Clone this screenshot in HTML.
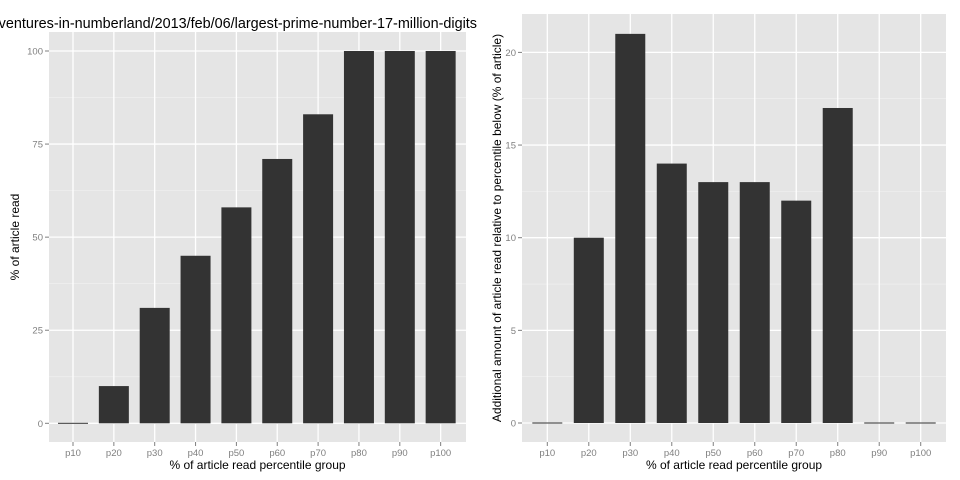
<!DOCTYPE html>
<html><head><meta charset="utf-8"><style>
body{margin:0;background:#fff;}
svg{display:block;font-family:"Liberation Sans",sans-serif;}
</style></head><body>
<svg id="c" width="960" height="480"></svg>
<script>
const categories=["p10","p20","p30","p40","p50","p60","p70","p80","p90","p100"];
const leftValues=[0,10,31,45,58,71,83,100,100,100];
const rightValues=[0,10,21,14,13,13,12,17,0,0];
const leftTicks=[0,25,50,75,100];
const rightTicks=[0,5,10,15,20];
const NS="http://www.w3.org/2000/svg";
const svg=document.getElementById('c');
function mk(t,a,p){const e=document.createElementNS(NS,t);for(const k in a)e.setAttribute(k,a[k]);(p||svg).appendChild(e);return e;}
function panel(o){
  const g=mk('g',{});
  
  
  const bg=mk('rect',{x:o.x0,y:o.y0,width:o.x1-o.x0,height:o.y1-o.y0,fill:'#e5e5e5'},g);
  
  
  const ys=v=>o.zeroY-(v)*o.ppu;
  const xs=i=>o.cx0+i*o.step;
  for(let i=0;i<o.ticks.length-1;i++){
    const m=(o.ticks[i]+o.ticks[i+1])/2;
    mk('line',{x1:o.x0,x2:o.x1,y1:ys(m),y2:ys(m),stroke:'#f2f2f2','stroke-width':0.6},g);
  }
  const lastM=o.ticks[o.ticks.length-1]+(o.ticks[1]-o.ticks[0])/2;
  if(ys(lastM)>o.y0) mk('line',{x1:o.x0,x2:o.x1,y1:ys(lastM),y2:ys(lastM),stroke:'#f2f2f2','stroke-width':0.6},g);
  o.ticks.forEach(t=>{
    const y=ys(t);
    const l=mk('line',{x1:o.x0,x2:o.x1,y1:y,y2:y,stroke:'#fff','stroke-width':1.3},g);
    
    
    mk('line',{x1:o.x0-4,x2:o.x0,y1:y,y2:y,stroke:'#7f7f7f','stroke-width':1},g);
    const tx=mk('text',{x:o.x0-6,y:y+3.5,'text-anchor':'end','font-size':9.5,fill:'#7f7f7f'},g);
    tx.textContent=t;
    
    
  });
  categories.forEach((c,i)=>{
    const x=xs(i);
    mk('line',{x1:x,x2:x,y1:o.y0,y2:o.y1,stroke:'#fff','stroke-width':1.3},g);
    mk('line',{x1:x,x2:x,y1:o.y1,y2:o.y1+4,stroke:'#7f7f7f','stroke-width':1},g);
    const tx=mk('text',{x:x,y:o.y1+14,'text-anchor':'middle','font-size':9.5,fill:'#7f7f7f'},g);
    tx.textContent=c;
    
    
  });
  o.values.forEach((v,i)=>{
    const h=Math.max(v*o.ppu,1);
    const r=mk('rect',{x:xs(i)-15,y:ys(0)-(v>0?v*o.ppu:0.5),width:30,height:h,fill:'#333333'},g);
    
    
  });
  const xt=mk('text',{x:(o.x0+o.x1)/2,y:469,'text-anchor':'middle','font-size':12,fill:'#000'},g);
  xt.textContent='% of article read percentile group';
  
  
  const yt=mk('text',{x:0,y:0,'text-anchor':'middle','font-size':12,fill:'#000',transform:`translate(${o.ytx},${(o.y0+o.y1)/2}) rotate(-90)`},g);
  yt.textContent=o.ytitle;
  
  
}
panel({name:'left-panel',x0:49,x1:466,y0:32,y1:442,zeroY:423.3,ppu:3.723,cx0:73,step:40.85,ticks:leftTicks,values:leftValues,ytitle:'% of article read',ytx:19});
panel({name:'right-panel',x0:522,x1:946,y0:14,y1:442,zeroY:423,ppu:18.53,cx0:547.3,step:41.49,ticks:rightTicks,values:rightValues,ytitle:'Additional amount of article read relative to percentile below (% of article)',ytx:501});
const t=mk('text',{x:477,y:28,'text-anchor':'end','font-size':14.4,fill:'#000'});
t.textContent='ventures-in-numberland/2013/feb/06/largest-prime-number-17-million-digits';


</script>
</body></html>
